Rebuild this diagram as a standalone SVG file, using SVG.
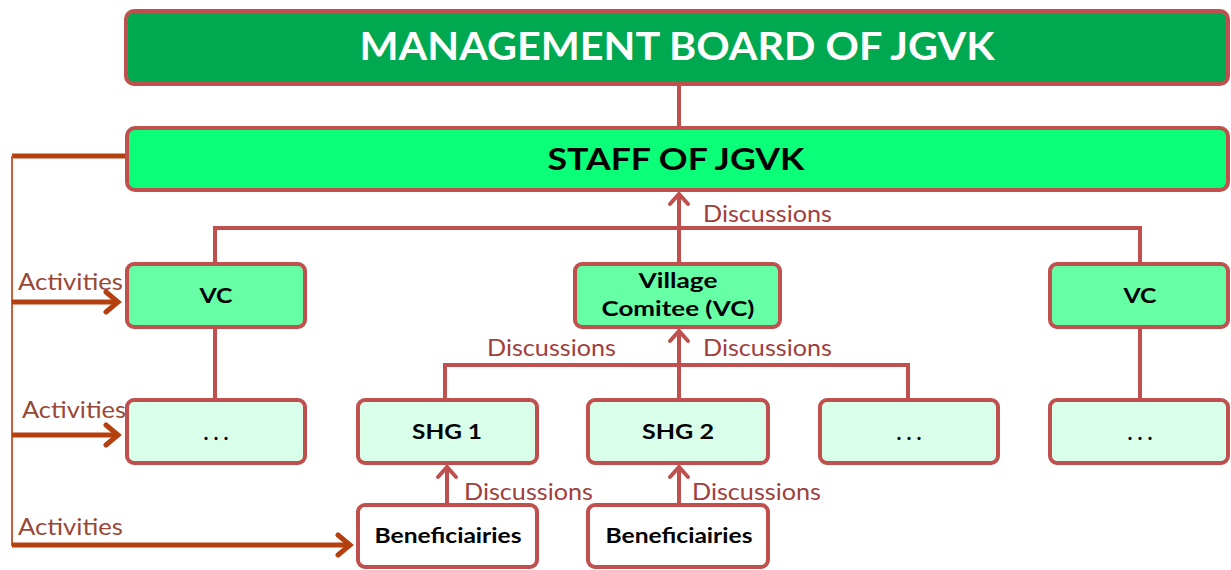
<svg xmlns="http://www.w3.org/2000/svg" width="1231" height="570" viewBox="0 0 1231 570">
<style>
.box{stroke:#C0504D;stroke-width:4}
.lbl{font-family:Lato,"Open Sans",sans-serif;font-weight:bold;fill:#000;text-anchor:middle}
.disc{font-family:Lato,"Open Sans",sans-serif;font-size:23px;fill:#A0403D}
.act{font-family:Lato,"Open Sans",sans-serif;font-size:23px;fill:#984836}
.con{stroke:#C0504D;stroke-width:4;fill:none}
.acon{stroke:#B5400F;stroke-width:5;fill:none}
</style>
<defs>
<marker id="up" markerUnits="userSpaceOnUse" markerWidth="30" markerHeight="30" viewBox="-15 -15 30 30" refX="0" refY="0" orient="auto">
<path d="M-10,-9 L0,0 L-10,9" fill="none" stroke="#C0504D" stroke-width="4" stroke-linecap="round"/>
</marker>
<marker id="act" markerUnits="userSpaceOnUse" markerWidth="30" markerHeight="30" viewBox="-15 -15 30 30" refX="0" refY="0" orient="auto">
<path d="M-12,-10 L0,0 L-12,10" fill="none" stroke="#B5400F" stroke-width="5" stroke-linecap="round"/>
</marker>
</defs>
<rect width="1231" height="570" fill="#fff"/>
<g id="connectors">
<line class="con" x1="679" y1="84" x2="679" y2="128"/>
<path class="con" d="M215,264 V228 H1140 V264"/>
<line class="con" x1="679" y1="264" x2="679" y2="194" marker-end="url(#up)"/>
<line class="con" x1="215" y1="327" x2="215" y2="400"/>
<line class="con" x1="1140" y1="327" x2="1140" y2="400"/>
<path class="con" d="M445,400 V365 H908 V400"/>
<line class="con" x1="679" y1="400" x2="679" y2="331" marker-end="url(#up)"/>
<line class="con" x1="447" y1="505" x2="447" y2="467" marker-end="url(#up)"/>
<line class="con" x1="679" y1="505" x2="679" y2="467" marker-end="url(#up)"/>
<line class="acon" x1="12" y1="156" x2="127" y2="156"/>
<line x1="12" y1="156" x2="12" y2="546" stroke="#C8603E" stroke-width="2"/>
<line class="acon" x1="12" y1="302" x2="118" y2="302" marker-end="url(#act)"/>
<line class="acon" x1="12" y1="435" x2="118" y2="435" marker-end="url(#act)"/>
<line class="acon" x1="12" y1="545" x2="350" y2="545" marker-end="url(#act)"/>
<text class="disc" x="703" y="222" textLength="129" lengthAdjust="spacingAndGlyphs">Discussions</text>
<text class="disc" x="487" y="356" textLength="129" lengthAdjust="spacingAndGlyphs">Discussions</text>
<text class="disc" x="703" y="356" textLength="129" lengthAdjust="spacingAndGlyphs">Discussions</text>
<text class="disc" x="464" y="500" textLength="129" lengthAdjust="spacingAndGlyphs">Discussions</text>
<text class="disc" x="692" y="500" textLength="129" lengthAdjust="spacingAndGlyphs">Discussions</text>
<text class="act" x="18" y="290" textLength="105" lengthAdjust="spacingAndGlyphs">Activities</text>
<text class="act" x="22" y="418" textLength="104" lengthAdjust="spacingAndGlyphs">Activities</text>
<text class="act" x="18" y="535" textLength="105" lengthAdjust="spacingAndGlyphs">Activities</text>
</g>
<g id="management">
<rect class="box" x="126" y="11" width="1102" height="73" rx="8" fill="#00A94F"/>
<text class="lbl" x="677" y="60" font-size="38" style="fill:#fff" textLength="635" lengthAdjust="spacingAndGlyphs">MANAGEMENT BOARD OF JGVK</text>
</g>
<g id="staff">
<rect class="box" x="127" y="128" width="1101" height="62" rx="8" fill="#0BFF78"/>
<text class="lbl" x="676" y="170" font-size="31" textLength="257" lengthAdjust="spacingAndGlyphs">STAFF OF JGVK</text>
</g>
<g id="vc-left">
<rect class="box" x="127" y="264" width="178" height="63" rx="7" fill="#66FFA6"/>
<text class="lbl" x="216" y="303" font-size="21" textLength="33" lengthAdjust="spacingAndGlyphs">VC</text>
</g>
<g id="village-comitee">
<rect class="box" x="575" y="264" width="205" height="63" rx="7" fill="#66FFA6"/>
<text class="lbl" x="678" y="288" font-size="21" textLength="79" lengthAdjust="spacingAndGlyphs">Village</text>
<text class="lbl" x="678" y="316" font-size="21" textLength="153" lengthAdjust="spacingAndGlyphs">Comitee (VC)</text>
</g>
<g id="vc-right">
<rect class="box" x="1050" y="264" width="178" height="63" rx="7" fill="#66FFA6"/>
<text class="lbl" x="1140" y="303" font-size="21" textLength="33" lengthAdjust="spacingAndGlyphs">VC</text>
</g>
<g id="dots-left">
<rect class="box" x="127" y="400" width="178" height="63" rx="7" fill="#D9FFEB"/>
<text class="lbl" x="216" y="440" font-size="21" textLength="25" lengthAdjust="spacing">...</text>
</g>
<g id="shg1">
<rect class="box" x="358" y="400" width="179" height="63" rx="7" fill="#D9FFEB"/>
<text class="lbl" x="447" y="439" font-size="21" textLength="70" lengthAdjust="spacingAndGlyphs">SHG 1</text>
</g>
<g id="shg2">
<rect class="box" x="588" y="400" width="180" height="63" rx="7" fill="#D9FFEB"/>
<text class="lbl" x="678" y="439" font-size="21" textLength="72" lengthAdjust="spacingAndGlyphs">SHG 2</text>
</g>
<g id="dots-mid">
<rect class="box" x="820" y="400" width="178" height="63" rx="7" fill="#D9FFEB"/>
<text class="lbl" x="909" y="440" font-size="21" textLength="25" lengthAdjust="spacing">...</text>
</g>
<g id="dots-right">
<rect class="box" x="1050" y="400" width="178" height="63" rx="7" fill="#D9FFEB"/>
<text class="lbl" x="1140" y="440" font-size="21" textLength="25" lengthAdjust="spacing">...</text>
</g>
<g id="beneficiairies-1">
<rect class="box" x="358" y="505" width="179" height="62" rx="7" fill="#fff"/>
<text class="lbl" x="448" y="543" font-size="20" textLength="147" lengthAdjust="spacingAndGlyphs">Beneficiairies</text>
</g>
<g id="beneficiairies-2">
<rect class="box" x="588" y="505" width="180" height="62" rx="7" fill="#fff"/>
<text class="lbl" x="679" y="543" font-size="20" textLength="147" lengthAdjust="spacingAndGlyphs">Beneficiairies</text>
</g>
</svg>
